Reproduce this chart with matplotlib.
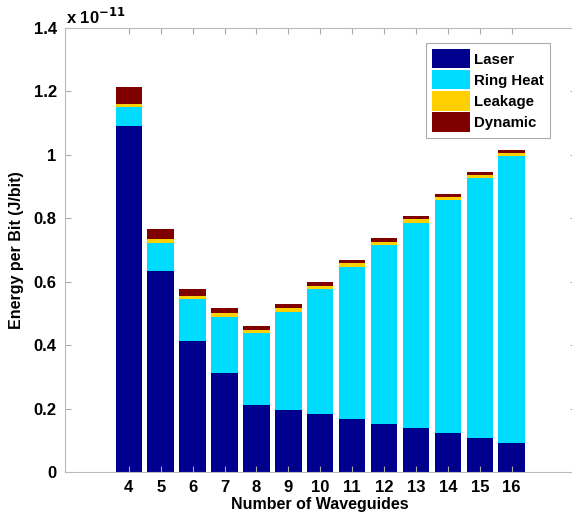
import numpy as np
import matplotlib
matplotlib.use("Agg")
import matplotlib.pyplot as plt

plt.rcParams['font.family'] = ['Liberation Sans', 'DejaVu Sans']
plt.rcParams['font.weight'] = 'bold'

# energy per bit, in units of 1e-11 J/bit
waveguides = [4, 5, 6, 7, 8, 9, 10, 11, 12, 13, 14, 15, 16]
laser = [1.090, 0.634, 0.412, 0.312, 0.210, 0.196, 0.182, 0.167, 0.151, 0.138, 0.123, 0.108, 0.092]
ring_heat = [0.062, 0.087, 0.135, 0.178, 0.227, 0.310, 0.394, 0.480, 0.565, 0.648, 0.734, 0.818, 0.905]
leakage = [0.007, 0.013, 0.008, 0.010, 0.011, 0.010, 0.011, 0.011, 0.010, 0.011, 0.010, 0.011, 0.010]
dynamic = [0.054, 0.031, 0.022, 0.018, 0.013, 0.015, 0.012, 0.011, 0.012, 0.010, 0.011, 0.009, 0.008]

series = [('Laser', laser, '#00008f'),
          ('Ring Heat', ring_heat, '#00dcff'),
          ('Leakage', leakage, '#ffd000'),
          ('Dynamic', dynamic, '#800000')]

yticks = [0, 0.2, 0.4, 0.6, 0.8, 1.0, 1.2, 1.4]
ytick_labels = ['0', '0.2', '0.4', '0.6', '0.8', '1', '1.2', '1.4']

fig = plt.figure(figsize=(5.72, 5.16), dpi=100)
ax = fig.add_axes([65 / 572, 44 / 516, 510.5 / 572, 444 / 516])

x = np.array(waveguides)
bottom = np.zeros(len(x))
for name, vals, col in series:
    ax.bar(x, vals, width=0.83, bottom=bottom, color=col, label=name, edgecolor='none')
    bottom += np.array(vals)

ax.set_xlim(2, 18)
ax.set_ylim(0, 1.4)
ax.set_xticks(waveguides)
ax.set_xticklabels([str(w) for w in waveguides], fontsize=12, fontweight='bold')
ax.set_yticks(yticks)
ax.set_yticklabels(ytick_labels, fontsize=12, fontweight='bold')
ax.tick_params(direction='in', length=4, top=True, right=True, color='#aaaaaa', pad=6)
for s in ax.spines.values():
    s.set_color('#bbbbbb')
    s.set_linewidth(0.8)

ax.set_xlabel('Number of Waveguides', fontsize=11.5, fontweight='bold', labelpad=1)
ax.set_ylabel('Energy per Bit (J/bit)', fontsize=11.5, fontweight='bold', labelpad=7)
fig.text(66 / 572, 1 - 17 / 516, r'x 10$^{\mathbf{-11}}$', fontsize=12, fontweight='bold',
         va='center', ha='left')

leg = ax.legend(loc='upper right', bbox_to_anchor=(0.950, 0.966), borderaxespad=0,
                fontsize=10.8, handlelength=2.5, handleheight=1.6, handletextpad=0.3,
                labelspacing=0.12, borderpad=0.4, fancybox=False, framealpha=1)
leg.get_frame().set_edgecolor('#aaaaaa')
leg.get_frame().set_linewidth(0.8)

fig.savefig('out.png', dpi=100)
